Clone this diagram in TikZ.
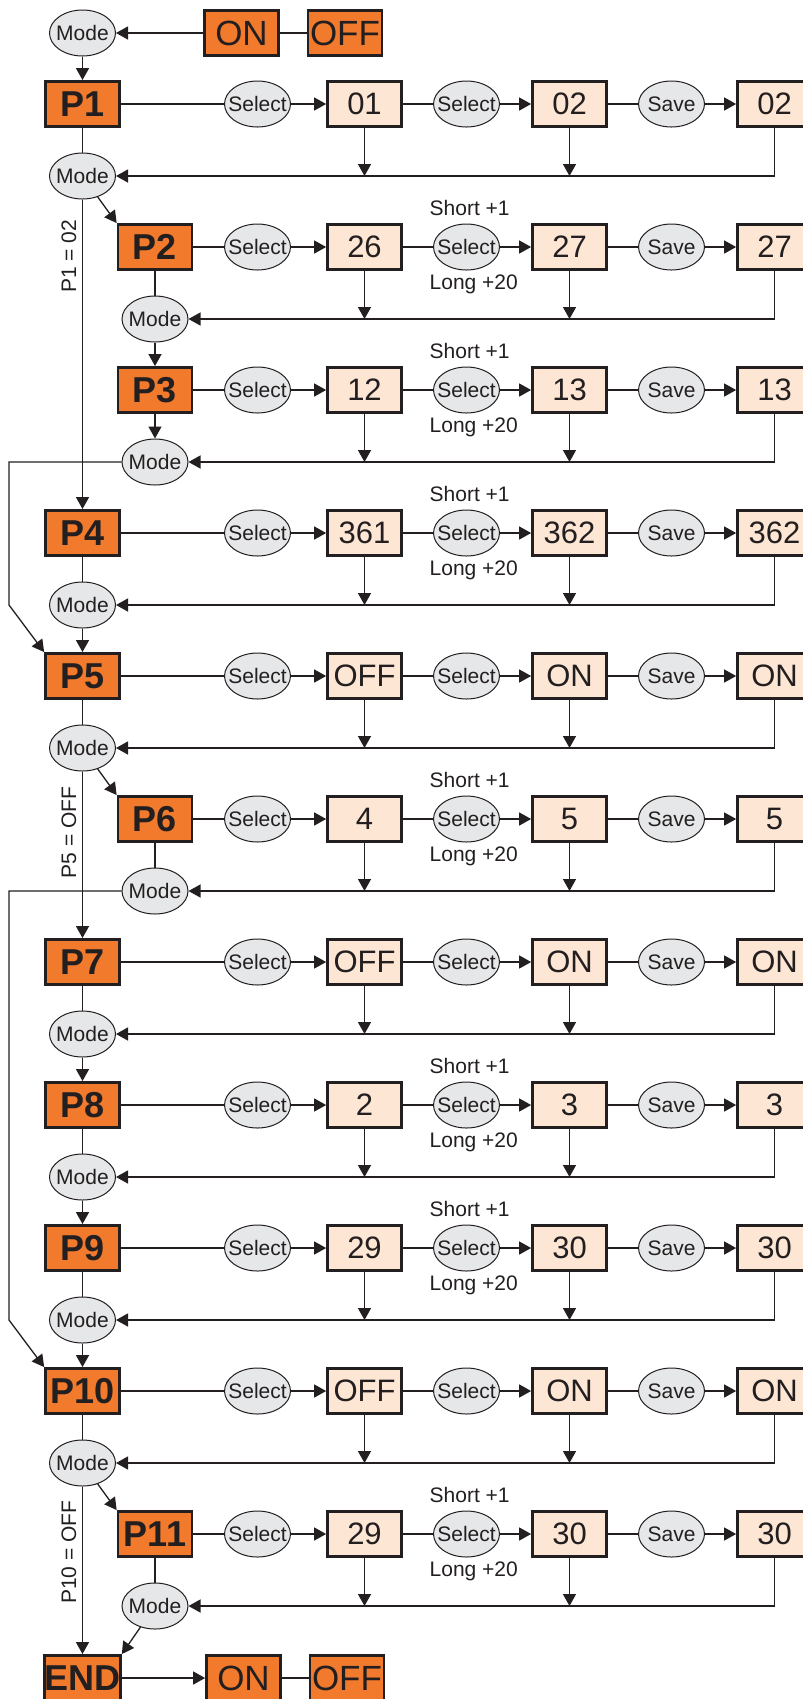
\documentclass[tikz,border=0pt]{standalone}
\usepackage{fontspec}
\setmainfont{Liberation Sans}
\usetikzlibrary{shapes.geometric}
\usetikzlibrary{positioning,calc,arrows.meta,shapes}
\definecolor{linegray}{RGB}{35,31,32}
\definecolor{parorange}{RGB}{242,122,45}
\definecolor{valpeach}{RGB}{253,230,212}
\definecolor{keygray}{RGB}{230,231,232}
\tikzset{
  param/.style={rectangle,draw=linegray,line width=1.35pt,fill=parorange,minimum width=37pt,minimum height=22.6pt,inner sep=0pt,text=linegray,font=\fontsize{18}{18}\selectfont\bfseries},
  valbox/.style={param,fill=valpeach,font=\fontsize{15.5}{15.5}\selectfont},
  swbox/.style={param,font=\fontsize{17.5}{17.5}\selectfont},
  button/.style={ellipse,draw=linegray,line width=0.5pt,fill=keygray,minimum width=33pt,minimum height=23pt,inner xsep=-3pt,inner ysep=0pt,text=linegray,font=\fontsize{10.5}{10.5}\selectfont},
  hint/.style={inner sep=0pt,text=linegray,font=\fontsize{10.5}{10.5}\selectfont}
}
\begin{document}
\begin{tikzpicture}[->,>={Triangle[length=6pt,width=6.5pt]},x=0.5pt,y=-0.5pt,line width=0.65pt,color=linegray]
    \useasboundingbox (0,0) rectangle (803,1699);

    \node at (82.5, 33) [button] (M0) {Mode};
    \node at (241.5, 33) [swbox] (ON1) {ON};
    \node at (345, 33) [swbox] (OFF1) {OFF};

    \node at (82.5, 104) [param] (P1) {P1};
    \node at (257.5, 104) [button] (sel1a) {Select};
    \node at (364.5, 104) [valbox] (val1a) {01};
    \node at (466.5, 104) [button] (sel1b) {Select};
    \node at (569.5, 104) [valbox] (val1b) {02};
    \node at (671.5, 104) [button] (save1) {Save};
    \node at (774.5, 104) [valbox] (val1c) {02};
    \node at (82.5, 176) [button] (M1) {Mode};
    \node at (69, 219) [hint, rotate=90, anchor=east] (cond1) {P1 = 02};

    \node at (155, 247) [param] (P2) {P2};
    \node at (257.5, 247) [button] (sel2a) {Select};
    \node at (364.5, 247) [valbox] (val2a) {26};
    \node at (466.5, 247) [button] (sel2b) {Select};
    \node at (569.5, 247) [valbox] (val2b) {27};
    \node at (671.5, 247) [button] (save2) {Save};
    \node at (774.5, 247) [valbox] (val2c) {27};
    \node at (429, 215) [hint, anchor=base west] (short2) {Short +1};
    \node at (429, 289) [hint, anchor=base west] (long2) {Long +20};
    \node at (155, 319) [button] (M2) {Mode};

    \node at (155, 390) [param] (P3) {P3};
    \node at (257.5, 390) [button] (sel3a) {Select};
    \node at (364.5, 390) [valbox] (val3a) {12};
    \node at (466.5, 390) [button] (sel3b) {Select};
    \node at (569.5, 390) [valbox] (val3b) {13};
    \node at (671.5, 390) [button] (save3) {Save};
    \node at (774.5, 390) [valbox] (val3c) {13};
    \node at (429, 358) [hint, anchor=base west] (short3) {Short +1};
    \node at (429, 432) [hint, anchor=base west] (long3) {Long +20};
    \node at (155, 462) [button] (M3) {Mode};

    \node at (82.5, 533) [param] (P4) {P4};
    \node at (257.5, 533) [button] (sel4a) {Select};
    \node at (364.5, 533) [valbox] (val4a) {361};
    \node at (466.5, 533) [button] (sel4b) {Select};
    \node at (569.5, 533) [valbox] (val4b) {362};
    \node at (671.5, 533) [button] (save4) {Save};
    \node at (774.5, 533) [valbox] (val4c) {362};
    \node at (429, 501) [hint, anchor=base west] (short4) {Short +1};
    \node at (429, 575) [hint, anchor=base west] (long4) {Long +20};
    \node at (82.5, 605) [button] (M4) {Mode};

    \node at (82.5, 676) [param] (P5) {P5};
    \node at (257.5, 676) [button] (sel5a) {Select};
    \node at (364.5, 676) [valbox] (val5a) {OFF};
    \node at (466.5, 676) [button] (sel5b) {Select};
    \node at (569.5, 676) [valbox] (val5b) {ON};
    \node at (671.5, 676) [button] (save5) {Save};
    \node at (774.5, 676) [valbox] (val5c) {ON};
    \node at (82.5, 748) [button] (M5) {Mode};
    \node at (69, 786) [hint, rotate=90, anchor=east] (cond5) {P5 = OFF};

    \node at (155, 819) [param] (P6) {P6};
    \node at (257.5, 819) [button] (sel6a) {Select};
    \node at (364.5, 819) [valbox] (val6a) {4};
    \node at (466.5, 819) [button] (sel6b) {Select};
    \node at (569.5, 819) [valbox] (val6b) {5};
    \node at (671.5, 819) [button] (save6) {Save};
    \node at (774.5, 819) [valbox] (val6c) {5};
    \node at (429, 787) [hint, anchor=base west] (short6) {Short +1};
    \node at (429, 861) [hint, anchor=base west] (long6) {Long +20};
    \node at (155, 891) [button] (M6) {Mode};

    \node at (82.5, 962) [param] (P7) {P7};
    \node at (257.5, 962) [button] (sel7a) {Select};
    \node at (364.5, 962) [valbox] (val7a) {OFF};
    \node at (466.5, 962) [button] (sel7b) {Select};
    \node at (569.5, 962) [valbox] (val7b) {ON};
    \node at (671.5, 962) [button] (save7) {Save};
    \node at (774.5, 962) [valbox] (val7c) {ON};
    \node at (82.5, 1034) [button] (M7) {Mode};

    \node at (82.5, 1105) [param] (P8) {P8};
    \node at (257.5, 1105) [button] (sel8a) {Select};
    \node at (364.5, 1105) [valbox] (val8a) {2};
    \node at (466.5, 1105) [button] (sel8b) {Select};
    \node at (569.5, 1105) [valbox] (val8b) {3};
    \node at (671.5, 1105) [button] (save8) {Save};
    \node at (774.5, 1105) [valbox] (val8c) {3};
    \node at (429, 1073) [hint, anchor=base west] (short8) {Short +1};
    \node at (429, 1147) [hint, anchor=base west] (long8) {Long +20};
    \node at (82.5, 1177) [button] (M8) {Mode};

    \node at (82.5, 1248) [param] (P9) {P9};
    \node at (257.5, 1248) [button] (sel9a) {Select};
    \node at (364.5, 1248) [valbox] (val9a) {29};
    \node at (466.5, 1248) [button] (sel9b) {Select};
    \node at (569.5, 1248) [valbox] (val9b) {30};
    \node at (671.5, 1248) [button] (save9) {Save};
    \node at (774.5, 1248) [valbox] (val9c) {30};
    \node at (429, 1216) [hint, anchor=base west] (short9) {Short +1};
    \node at (429, 1290) [hint, anchor=base west] (long9) {Long +20};
    \node at (82.5, 1320) [button] (M9) {Mode};

    \node at (82.5, 1391) [param] (P10) {P10};
    \node at (257.5, 1391) [button] (sel10a) {Select};
    \node at (364.5, 1391) [valbox] (val10a) {OFF};
    \node at (466.5, 1391) [button] (sel10b) {Select};
    \node at (569.5, 1391) [valbox] (val10b) {ON};
    \node at (671.5, 1391) [button] (save10) {Save};
    \node at (774.5, 1391) [valbox] (val10c) {ON};
    \node at (82.5, 1463) [button] (M10) {Mode};
    \node at (69, 1500) [hint, rotate=90, anchor=east] (cond10) {P10 = OFF};

    \node at (155, 1534) [param] (P11) {P11};
    \node at (257.5, 1534) [button] (sel11a) {Select};
    \node at (364.5, 1534) [valbox] (val11a) {29};
    \node at (466.5, 1534) [button] (sel11b) {Select};
    \node at (569.5, 1534) [valbox] (val11b) {30};
    \node at (671.5, 1534) [button] (save11) {Save};
    \node at (774.5, 1534) [valbox] (val11c) {30};
    \node at (429, 1502) [hint, anchor=base west] (short11) {Short +1};
    \node at (429, 1576) [hint, anchor=base west] (long11) {Long +20};
    \node at (155, 1606) [button] (M11) {Mode};

    \node at (82.5, 1678) [param] (END) {END};
    \node at (243.5, 1678) [swbox] (ON2) {ON};
    \node at (347, 1678) [swbox] (OFF2) {OFF};

    \coordinate (loopA) at (9, 605);
    \coordinate (loopB) at (9, 1320);

    % rows
    \path
    (P1) edge[-] (sel1a) (sel1a) edge (val1a) (val1a) edge[-] (sel1b)
    (sel1b) edge (val1b) (val1b) edge[-] (save1) (save1) edge (val1c)
    (P2) edge[-] (sel2a) (sel2a) edge (val2a) (val2a) edge[-] (sel2b)
    (sel2b) edge (val2b) (val2b) edge[-] (save2) (save2) edge (val2c)
    (P3) edge[-] (sel3a) (sel3a) edge (val3a) (val3a) edge[-] (sel3b)
    (sel3b) edge (val3b) (val3b) edge[-] (save3) (save3) edge (val3c)
    (P4) edge[-] (sel4a) (sel4a) edge (val4a) (val4a) edge[-] (sel4b)
    (sel4b) edge (val4b) (val4b) edge[-] (save4) (save4) edge (val4c)
    (P5) edge[-] (sel5a) (sel5a) edge (val5a) (val5a) edge[-] (sel5b)
    (sel5b) edge (val5b) (val5b) edge[-] (save5) (save5) edge (val5c)
    (P6) edge[-] (sel6a) (sel6a) edge (val6a) (val6a) edge[-] (sel6b)
    (sel6b) edge (val6b) (val6b) edge[-] (save6) (save6) edge (val6c)
    (P7) edge[-] (sel7a) (sel7a) edge (val7a) (val7a) edge[-] (sel7b)
    (sel7b) edge (val7b) (val7b) edge[-] (save7) (save7) edge (val7c)
    (P8) edge[-] (sel8a) (sel8a) edge (val8a) (val8a) edge[-] (sel8b)
    (sel8b) edge (val8b) (val8b) edge[-] (save8) (save8) edge (val8c)
    (P9) edge[-] (sel9a) (sel9a) edge (val9a) (val9a) edge[-] (sel9b)
    (sel9b) edge (val9b) (val9b) edge[-] (save9) (save9) edge (val9c)
    (P10) edge[-] (sel10a) (sel10a) edge (val10a) (val10a) edge[-] (sel10b)
    (sel10b) edge (val10b) (val10b) edge[-] (save10) (save10) edge (val10c)
    (P11) edge[-] (sel11a) (sel11a) edge (val11a) (val11a) edge[-] (sel11b)
    (sel11b) edge (val11b) (val11b) edge[-] (save11) (save11) edge (val11c);

    % mode chain
    \path
    (ON1) edge (M0) (ON1) edge[-] (OFF1)
    (M0) edge (P1) (P1) edge[-] (M1)
    (M1) edge (P2.north west) (M1) edge (P4)
    (P2) edge[-] (M2) (M2) edge (P3) (P3) edge (M3)
    (P4) edge[-] (M4) (M4) edge (P5)
    (P5) edge[-] (M5)
    (M5) edge (P6.north west) (M5) edge (P7)
    (P6) edge[-] (M6)
    (P7) edge[-] (M7) (M7) edge (P8)
    (P8) edge[-] (M8) (M8) edge (P9)
    (P9) edge[-] (M9) (M9) edge (P10)
    (P10) edge[-] (M10)
    (M10) edge (P11.north west) (M10) edge (END)
    (P11) edge[-] (M11) (M11) edge (END.north east)
    (END) edge (ON2) (ON2) edge[-] (OFF2);

    % back to mode
    \draw (val1a) -- (val1a |- M1);  \draw (val1b) -- (val1b |- M1);  \draw (val1c) |- (M1);
    \draw (val2a) -- (val2a |- M2);  \draw (val2b) -- (val2b |- M2);  \draw (val2c) |- (M2);
    \draw (val3a) -- (val3a |- M3);  \draw (val3b) -- (val3b |- M3);  \draw (val3c) |- (M3);
    \draw (val4a) -- (val4a |- M4);  \draw (val4b) -- (val4b |- M4);  \draw (val4c) |- (M4);
    \draw (val5a) -- (val5a |- M5);  \draw (val5b) -- (val5b |- M5);  \draw (val5c) |- (M5);
    \draw (val6a) -- (val6a |- M6);  \draw (val6b) -- (val6b |- M6);  \draw (val6c) |- (M6);
    \draw (val7a) -- (val7a |- M7);  \draw (val7b) -- (val7b |- M7);  \draw (val7c) |- (M7);
    \draw (val8a) -- (val8a |- M8);  \draw (val8b) -- (val8b |- M8);  \draw (val8c) |- (M8);
    \draw (val9a) -- (val9a |- M9);  \draw (val9b) -- (val9b |- M9);  \draw (val9c) |- (M9);
    \draw (val10a) -- (val10a |- M10);  \draw (val10b) -- (val10b |- M10);  \draw (val10c) |- (M10);
    \draw (val11a) -- (val11a |- M11);  \draw (val11b) -- (val11b |- M11);  \draw (val11c) |- (M11);

    % skips
    \draw (M3) -| (loopA) -- (P5.north west);
    \draw (M6) -| (loopB) -- (P10.north west);
\end{tikzpicture}
\end{document}
